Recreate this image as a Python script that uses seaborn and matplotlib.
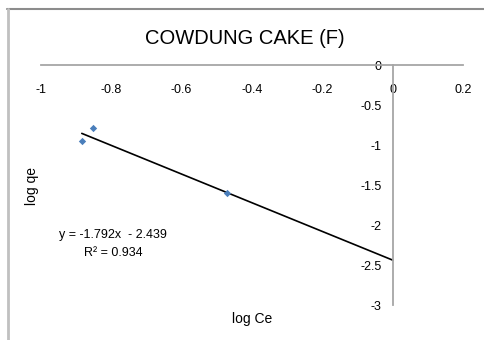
import numpy as np
import pandas as pd
import seaborn as sns
import matplotlib
matplotlib.use("Agg")
import matplotlib.pyplot as plt
from matplotlib.lines import Line2D

# Data
log_ce = [-0.884, -0.852, -0.472]
log_qe = [-0.954, -0.790, -1.600]
slope = -1.792
intercept = -2.439
r2 = 0.934
x_ticks = [-1, -0.8, -0.6, -0.4, -0.2, 0, 0.2]
y_ticks = [0, -0.5, -1, -1.5, -2, -2.5, -3]
title = "COWDUNG CAKE (F)"

sns.set_theme(style="white")
plt.rcParams["font.family"] = ["Liberation Sans", "DejaVu Sans"]

W, H = 484, 340
fig = plt.figure(figsize=(W / 100, H / 100), dpi=100)
fig.patch.set_facecolor("white")

def fx(px):
    return px / W

def fy(py):
    return 1 - py / H

ax = fig.add_axes([fx(41), fy(305), fx(463) - fx(41), fy(65) - fy(305)])
ax.set_facecolor("none")

df = pd.DataFrame({"log Ce": log_ce, "log qe": log_qe})
sns.scatterplot(data=df, x="log Ce", y="log qe", ax=ax, marker="D", s=14,
                color="#4A7EBB", edgecolor="#4A7EBB", linewidth=0, zorder=3)

x_line = np.array([min(log_ce), 0.0])
line_df = pd.DataFrame({"x": x_line, "y": slope * x_line + intercept})
sns.lineplot(data=line_df, x="x", y="y", ax=ax, color="black", linewidth=1.2, zorder=2)

ax.set_xlim(-1, 0.2)
ax.set_ylim(-3, 0)
ax.set_xticks(x_ticks)
ax.set_yticks(y_ticks)
ax.set_xticklabels([f"{v:g}" for v in x_ticks])
ax.set_yticklabels([f"{v:g}" for v in y_ticks])

axis_gray = "#A6A6A6"
for s in ["right", "top"]:
    ax.spines[s].set_visible(False)
ax.spines["left"].set_position(("data", 0))
ax.spines["bottom"].set_position(("data", 0))
for s in ["left", "bottom"]:
    ax.spines[s].set_color(axis_gray)
    ax.spines[s].set_linewidth(1.3)

ax.tick_params(axis="x", direction="out", length=3, width=1, color=axis_gray,
               labelsize=9, labelcolor="black", pad=10.5)
ax.tick_params(axis="y", direction="out", length=3, width=1, color=axis_gray,
               labelsize=9, labelcolor="black", pad=5)
ax.grid(False)

ax.set_xlabel("log Ce", fontsize=10, color="black")
ax.set_ylabel("log qe", fontsize=10, color="black")
ax.xaxis.set_label_coords((252 - 41) / 422, (305 - 319) / 240)
ax.xaxis.label.set_verticalalignment("center")
ax.yaxis.set_label_coords((32 - 41) / 422, (305 - 186) / 240)
ax.yaxis.label.set_verticalalignment("center")

fig.text(fx(245), fy(39), title, fontsize=14.5, ha="center", va="center", color="black")
fig.text(fx(113), fy(235), f"y = {slope}x  - {abs(intercept)}", fontsize=9,
         ha="center", va="center", color="black")
fig.text(fx(113), fy(253), f"R² = {r2}", fontsize=9, ha="center", va="center", color="black")

# chart-area border
fig.add_artist(Line2D([fx(7), fx(W)], [fy(9), fy(9)], color="#8C8C8C", linewidth=1.5))
fig.add_artist(Line2D([fx(7.5), fx(7.5)], [fy(9), fy(H)], color="#C0C0C0", linewidth=2))

fig.savefig("out.png", dpi=100)
